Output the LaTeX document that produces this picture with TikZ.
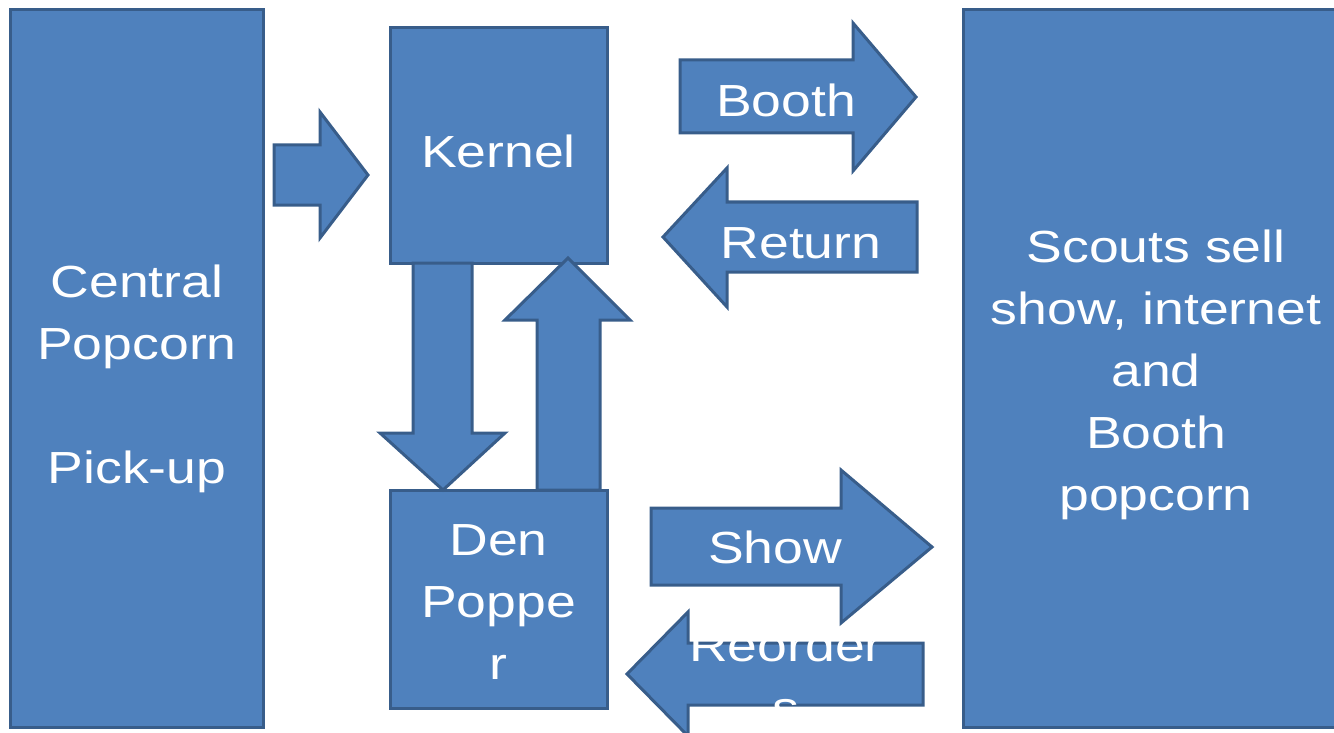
\documentclass[tikz,border=0pt]{standalone}
\usepackage{fontspec}
\setmainfont{Liberation Sans}
\newfontfamily\slidefont[FakeStretch=1.19]{Liberation Sans}
\definecolor{popblue}{HTML}{4F81BD}
\definecolor{popedge}{HTML}{385D8A}

\begin{document}
\begin{tikzpicture}[x=0.5pt,y=-0.5pt,
  box/.style={draw=popedge,fill=popblue,line width=1.5pt,inner sep=0pt,outer sep=0pt},
  blockarrow/.style={draw=popedge,fill=popblue,line width=1.5pt,line join=miter},
  lbl/.style={text=white,font=\slidefont\fontsize{22.5}{31}\selectfont,align=center,inner sep=0pt}]

% Page size (the right box runs off the edge)
\useasboundingbox (0,0) rectangle (1334,733);
\clip (0,0) rectangle (1334,733);

% Boxes
\node[box,minimum width=126.5pt,minimum height=358.5pt] (central) at (136.5,368.5) {};
\node[box,minimum width=108.5pt,minimum height=117.5pt] (kernel) at (498.5,145.5) {};
\node[box,minimum width=108.5pt,minimum height=109pt] (den) at (498.5,599) {};
\node[box,minimum width=210pt,minimum height=358.5pt] (scouts) at (1173,368.5) {};

% Pick-up to Kernel
\draw[blockarrow] (274,145) -- (320,145) -- (320,112) -- (368,175) -- (320,238) -- (320,205) -- (274,205) -- cycle;

% Kernel to Den Popper and back
\draw[blockarrow] (413,263) -- (472,263) -- (472,433) -- (505,433) -- (443,490) -- (380,433) -- (413,433) -- cycle;
\draw[blockarrow] (537,490) -- (600,490) -- (600,320) -- (630,320) -- (568,258) -- (505,320) -- (537,320) -- cycle;

% Kernel side arrows
\draw[blockarrow] (680,60) -- (853,60) -- (853,23) -- (916,97) -- (853,171) -- (853,133) -- (680,133) -- cycle;
\draw[blockarrow] (917,202) -- (727,202) -- (727,168) -- (663,237) -- (727,307) -- (727,272) -- (917,272) -- cycle;

% Den Popper side arrows
\draw[blockarrow] (651,508) -- (841,508) -- (841,470) -- (932,547) -- (841,623) -- (841,585) -- (651,585) -- cycle;
\draw[blockarrow] (923,643) -- (688,643) -- (688,612) -- (627,674) -- (688,736) -- (688,705) -- (923,705) -- cycle;

% Texts
\node[lbl] (centraltxt) at (137,379) {Central\\Popcorn\\[31pt]Pick-up};
\node[lbl] (scoutstxt) at (1156,375) {Scouts sell\\show, internet\\and\\Booth\\popcorn};
\node[lbl,anchor=base] (kerneltxt) at (498.5,168) {Kernel};
\node[lbl] (dentxt) at (498.5,602) {Den\\Poppe\\r};
\node[lbl,anchor=base] (booth) at (786,117) {Booth};
\node[lbl,anchor=base] (return) at (801,258) {Return};
\node[lbl,anchor=base] (show) at (775,563) {Show};
\node[lbl] (reorders) at (786,676) {Reorder\\s};

\end{tikzpicture}
\end{document}
